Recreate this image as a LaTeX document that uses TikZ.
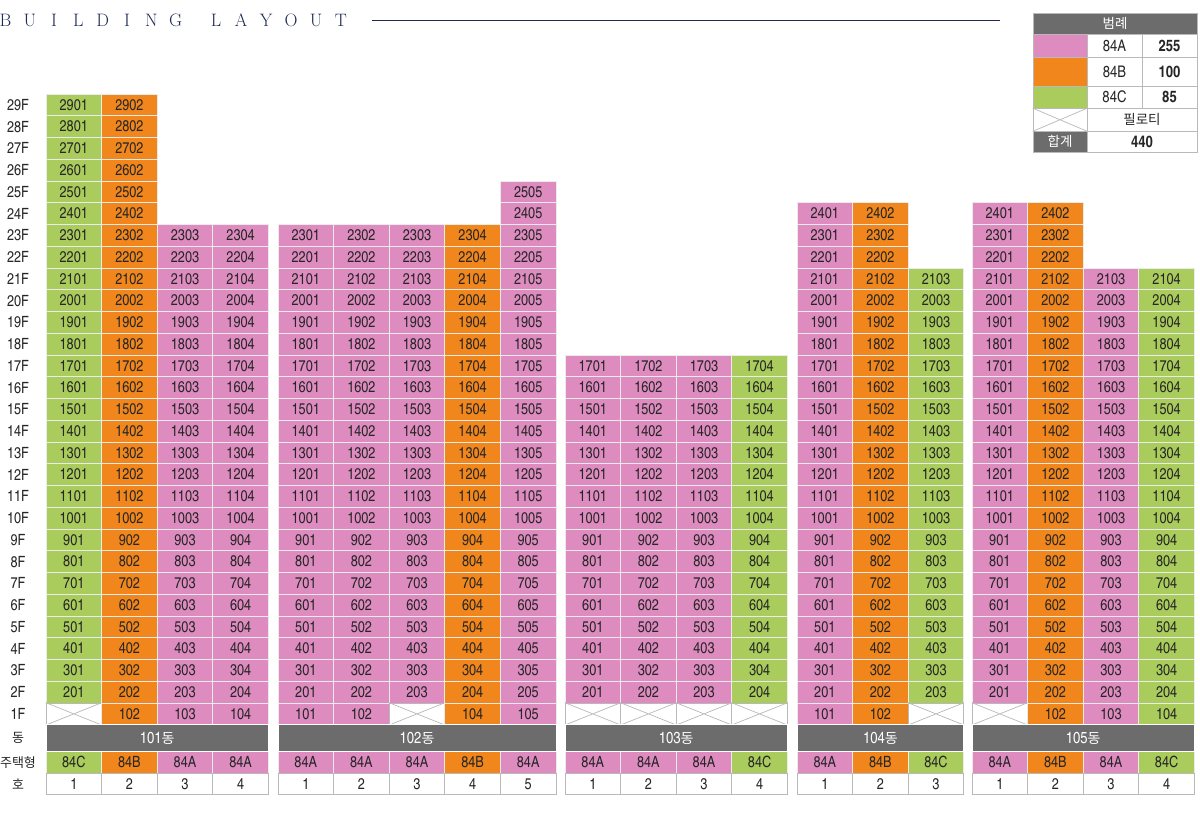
\documentclass[tikz,border=0pt]{standalone}
\usepackage{fontspec}
\newfontfamily\numfont{texgyreheroscn-regular.otf}[BoldFont=texgyreheroscn-bold.otf]
\newfontfamily\krfont{Noto Sans CJK KR}
\definecolor{typeA}{RGB}{222,139,192}
\definecolor{typeB}{RGB}{240,134,28}
\definecolor{typeC}{RGB}{170,204,92}
\definecolor{bargray}{RGB}{108,108,108}
\definecolor{rulegray}{RGB}{185,185,185}
\definecolor{titleblue}{RGB}{30,42,84}
\definecolor{celltext}{RGB}{38,38,38}

\begin{document}
\begin{tikzpicture}[x=1pt,y=-1pt]
\tikzset{
  cell/.style={draw=black!8,line width=0.8pt,minimum width=55.6pt,minimum height=21.75pt,inner sep=0pt,text=celltext,font=\fontsize{15.5}{15.5}\numfont},
  piloti/.style={cell,fill=white,draw=rulegray},
  hocell/.style={cell,fill=white,draw=rulegray},
  dongbar/.style={fill=bargray,draw=white,line width=0.8pt,minimum height=26.5pt,inner sep=0pt,text=white,font=\fontsize{16}{16}\numfont},
  sidelabel/.style={inner sep=0pt,text=celltext,font=\fontsize{15.5}{15.5}\numfont},
  sidekr/.style={inner sep=0pt,text=celltext,font=\fontsize{13}{13}\krfont},
  keycell/.style={draw=rulegray,line width=0.8pt,inner sep=0pt,text=celltext,font=\fontsize{16}{16}\numfont},
  titleletter/.style={inner sep=0pt,text=titleblue,font=\fontsize{18}{18}\selectfont}
}
\useasboundingbox (0,0) rectangle (1200,819);

% title
\foreach \ch [count=\i from 0] in {B,U,I,L,D,I,N,G}
  \node[titleletter] (ta\i) at ({5.5+\i*24.3},20) {\ch};
\foreach \ch [count=\i from 0] in {L,A,Y,O,U,T}
  \node[titleletter] (tb\i) at ({216+\i*25},20) {\ch};
\coordinate (rulestart) at (372,20);
\coordinate (ruleend) at (1000,20);
\draw[titleblue,line width=0.9pt] (rulestart) -- (ruleend);

% floor labels
\foreach \fl in {1,...,29}
  \node[sidelabel] (f\fl) at (18,{104.875+(29-\fl)*21.75}) {\fl F};
\node[sidekr] (ldong) at (18,738) {동};
\node[sidekr] (ltype) at (18,762.1) {주택형};
\node[sidekr] (lho) at (18,783.9) {호};

% building columns: id / center x / unit / top floor / colour / type / piloti
\foreach \bid/\cx/\cn/\ctop/\cfill/\ctype/\cpil in {
  101/73.8/1/29/typeC/84C/1, 101/129.4/2/29/typeB/84B/0, 101/185/3/23/typeA/84A/0, 101/240.6/4/23/typeA/84A/0,
  102/305.8/1/23/typeA/84A/0, 102/361.4/2/23/typeA/84A/0, 102/417/3/23/typeA/84A/1, 102/472.6/4/23/typeB/84B/0, 102/528.2/5/25/typeA/84A/0,
  103/592.8/1/17/typeA/84A/1, 103/648.4/2/17/typeA/84A/1, 103/704/3/17/typeA/84A/1, 103/759.6/4/17/typeC/84C/1,
  104/824.8/1/24/typeA/84A/0, 104/880.4/2/24/typeB/84B/0, 104/936/3/21/typeC/84C/1,
  105/999.8/1/24/typeA/84A/1, 105/1055.4/2/24/typeB/84B/0, 105/1111/3/21/typeA/84A/0, 105/1166.6/4/21/typeC/84C/0}{
  \foreach \fl in {2,...,\ctop}
    \node[cell,fill=\cfill] (u\bid-\fl-\cn) at (\cx,{104.875+(29-\fl)*21.75}) {\number\numexpr\fl*100+\cn\relax};
  \ifnum\cpil=1
    \node[piloti] (u\bid-1-\cn) at (\cx,713.875) {};
    \draw[rulegray,line width=0.7pt] (u\bid-1-\cn.north west) -- (u\bid-1-\cn.south east)
      (u\bid-1-\cn.south west) -- (u\bid-1-\cn.north east);
  \else
    \node[cell,fill=\cfill] (u\bid-1-\cn) at (\cx,713.875) {\number\numexpr100+\cn\relax};
  \fi
  \node[cell,fill=\cfill] (t\bid-\cn) at (\cx,762.1) {\ctype};
  \node[hocell] (h\bid-\cn) at (\cx,783.9) {\cn};
}

% building name bars
\foreach \bid/\bl/\br in {101/46/268.4, 102/278/556, 103/565/787.4, 104/797/963.8, 105/972/1194.4}
  \node[dongbar,minimum width={\br-\bl}] (d\bid) at ({(\bl+\br)/2},738) {\bid{\krfont\fontsize{14}{14}\selectfont 동}};

% legend
\node[keycell,fill=bargray,text=white,minimum width=164pt,minimum height=21pt,font=\fontsize{13.5}{13.5}\krfont] (khead) at (1115,23.5) {범례};
\foreach \kname/\ky/\kh/\kfill/\ktype/\knum in {ka/45.75/23.5/typeA/84A/255, kb/71.75/28.5/typeB/84B/100, kc/97.25/22.5/typeC/84C/85}{
  \node[keycell,fill=\kfill,minimum width=54pt,minimum height=\kh] (\kname-sw) at (1060,\ky) {};
  \node[keycell,minimum width=55pt,minimum height=\kh] (\kname-ty) at (1114.5,\ky) {\ktype};
  \node[keycell,minimum width=55pt,minimum height=\kh,font=\fontsize{16}{16}\numfont\bfseries] (\kname-nm) at (1169.5,\ky) {\knum};
}
\node[keycell,fill=white,minimum width=54pt,minimum height=22.5pt] (kp-sw) at (1060,119.75) {};
\draw[rulegray,line width=0.7pt] (kp-sw.north west) -- (kp-sw.south east) (kp-sw.south west) -- (kp-sw.north east);
\node[keycell,minimum width=110pt,minimum height=22.5pt,font=\fontsize{13.5}{13.5}\krfont] (kp-tx) at (1142,119.75) {필로티};
\node[keycell,fill=bargray,text=white,minimum width=54pt,minimum height=21.5pt,font=\fontsize{13.5}{13.5}\krfont] (ks-sw) at (1060,141.75) {합계};
\node[keycell,minimum width=110pt,minimum height=21.5pt,font=\fontsize{16}{16}\numfont\bfseries] (ks-tx) at (1142,141.75) {440};
\end{tikzpicture}
\end{document}
